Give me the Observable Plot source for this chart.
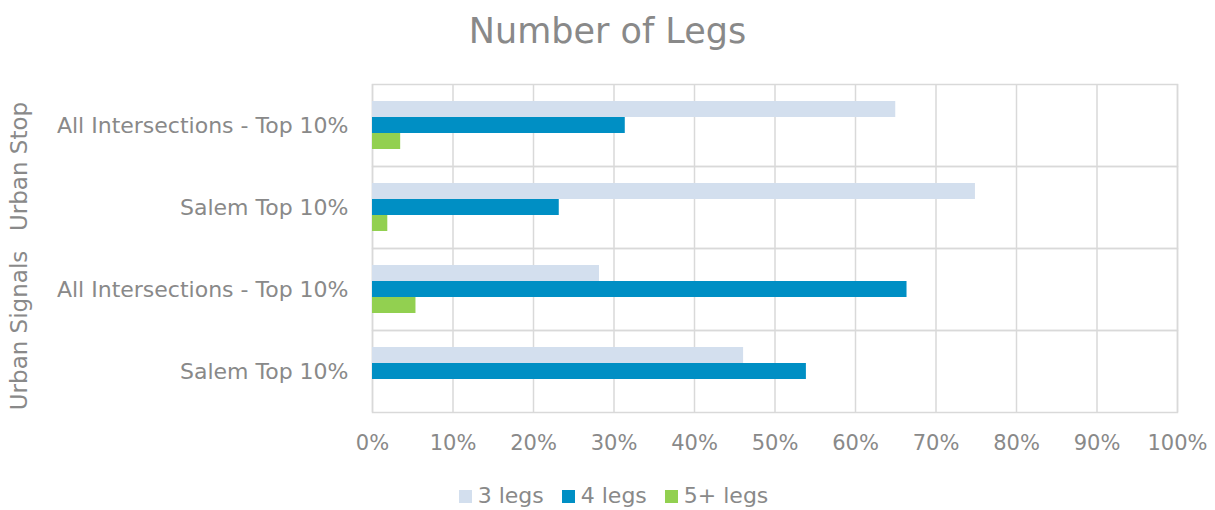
<!DOCTYPE html>
<html>
<head>
<meta charset="utf-8">
<script src="https://cdn.jsdelivr.net/npm/d3@7"></script>
<script src="https://cdn.jsdelivr.net/npm/@observablehq/plot@0.6"></script>
<style>
  body { margin: 0; background: #fff; }
  #wrap { position: relative; width: 1215px; height: 510px; font-family: "DejaVu Sans", sans-serif; color: #898989; }
  #title { position: absolute; left: 0; top: 14px; width: 1215px; text-align: center; font-size: 35px; line-height: 35px; }
  #chart { position: absolute; left: 0; top: 64px; }
  #legend { position: absolute; left: 6px; top: 485px; width: 1215px; display: flex; justify-content: center; font-size: 22px; line-height: 22px; }
  .item { display: flex; align-items: center; margin: 0 9px; }
  .swatch { width: 13px; height: 13px; margin-right: 6px; }
</style>
</head>
<body>
<div id="wrap">
  <div id="title">Number of Legs</div>
  <div id="chart"></div>
  <div id="legend"></div>
</div>
<script>
// Row categories (top to bottom) and the control-type group each row belongs to
const groups = ["Urban Stop", "Urban Stop", "Urban Signals", "Urban Signals"];
const rowLabels = ["All Intersections - Top 10%", "Salem Top 10%", "All Intersections - Top 10%", "Salem Top 10%"];

// Series
const seriesNames = ["3 legs", "4 legs", "5+ legs"];
const seriesColors = ["#D3DFEE", "#008FC4", "#92D050"];

// Share of intersections per row, one array per series
const legs3 = [0.650, 0.749, 0.282, 0.461];
const legs4 = [0.314, 0.232, 0.664, 0.539];
const legs5 = [0.035, 0.019, 0.054, 0.000];

// Axis ticks
const xTicks = [0, 0.1, 0.2, 0.3, 0.4, 0.5, 0.6, 0.7, 0.8, 0.9, 1.0];
const xTickLabels = ["0%", "10%", "20%", "30%", "40%", "50%", "60%", "70%", "80%", "90%", "100%"];

const seriesValues = [legs3, legs4, legs5];
const rows = rowLabels.map((_, i) => i);
const table = rows.flatMap(i => seriesNames.map((s, j) => ({row: i, series: s, value: seriesValues[j][i]})));

// Group label sits on the boundary between its two rows
const groupLabels = [
  {row: 0, label: groups[0]},
  {row: 2, label: groups[2]}
];

const textColor = "#898989";
const gridColor = "#d9d9d9";

const chart = Plot.plot({
  width: 1215,
  height: 398,
  marginTop: 20,
  marginBottom: 50,
  marginLeft: 372,
  marginRight: 38,
  style: {fontFamily: "'DejaVu Sans', sans-serif", color: textColor, background: "white"},
  x: {domain: [0, 1]},
  y: {domain: seriesNames, paddingInner: 0, paddingOuter: 0.96, axis: null},
  fy: {domain: rows, padding: 0},
  color: {domain: seriesNames, range: seriesColors},
  marks: [
    Plot.gridX(xTicks, {stroke: gridColor, strokeOpacity: 1, strokeWidth: 1.5}),
    Plot.frame({stroke: gridColor, strokeWidth: 1.5}),
    Plot.barX(table, {x: "value", y: "series", fy: "row", fill: "series", insetTop: 0, insetBottom: 0}),
    Plot.axisX({
      ticks: xTicks,
      tickFormat: d => xTickLabels[xTicks.indexOf(d)],
      tickSize: 0,
      tickPadding: 23,
      fontSize: 21,
      label: null
    }),
    Plot.axisFy({
      anchor: "left",
      tickFormat: i => rowLabels[i],
      tickSize: 0,
      tickPadding: 24,
      fontSize: 22,
      label: null
    }),
    Plot.text(groupLabels, {
      fy: "row",
      text: "label",
      frameAnchor: "bottom-left",
      dx: -353,
      rotate: -90,
      textAnchor: "middle",
      lineAnchor: "middle",
      fontSize: 23,
      fill: textColor
    })
  ]
});
document.getElementById("chart").append(chart);

// Legend
const legend = document.getElementById("legend");
seriesNames.forEach((s, j) => {
  const item = document.createElement("div");
  item.className = "item";
  const sw = document.createElement("span");
  sw.className = "swatch";
  sw.style.background = seriesColors[j];
  const tx = document.createElement("span");
  tx.textContent = s;
  item.append(sw, tx);
  legend.append(item);
});
</script>
</body>
</html>
